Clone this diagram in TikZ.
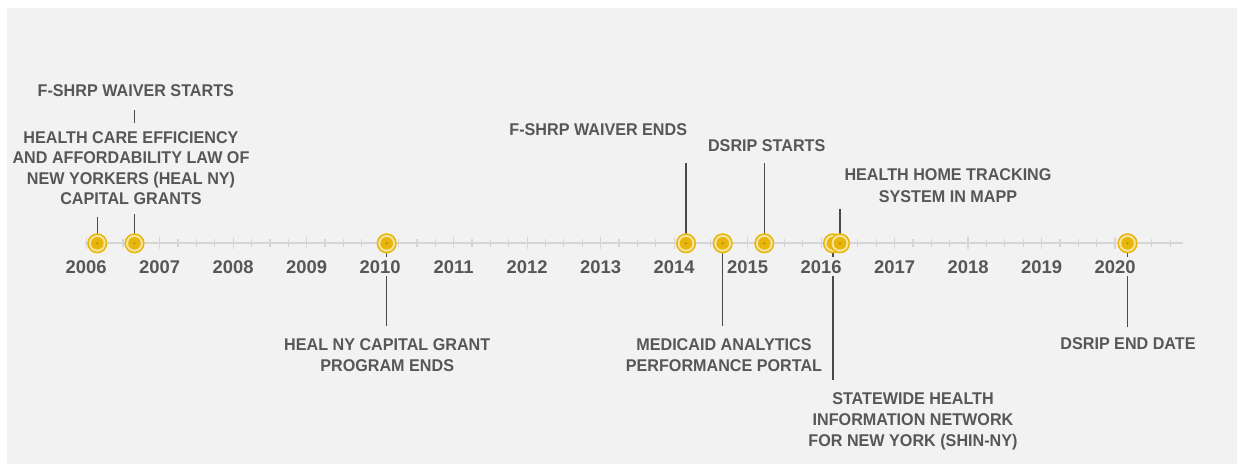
\documentclass[tikz,border=0pt]{standalone}
\usepackage{fontspec}
\setmainfont{Liberation Sans}
\newfontfamily\eventfont{Liberation Sans}[FakeStretch=0.95]
\usetikzlibrary{positioning}
\definecolor{TimeInk}{HTML}{575757}
\definecolor{TimeStem}{HTML}{4A4A4A}
\definecolor{TimeAxis}{HTML}{D6D6D6}
\definecolor{TimePanel}{HTML}{F2F2F2}
\definecolor{TimeGold}{HTML}{E8B60A}
\definecolor{TimePale}{HTML}{F6E4A2}

\tikzset{
  event/.style={font=\eventfont\fontsize{17}{21}\selectfont\bfseries, text=TimeInk, align=center, inner sep=0pt},
  yearlabel/.style={font=\fontsize{18.4}{20}\selectfont\bfseries, text=TimeInk, fill=TimePanel,
    inner sep=3pt, text height=13.2pt, text depth=0pt},
  stem/.style={draw=TimeStem, line width=1.4pt},
  tick/.style={draw=TimeAxis, line width=1.2pt},
  dot/.style={circle, minimum size=18.6pt, inner sep=0pt, draw=TimeGold, line width=1.5pt, fill=TimePale,
    path picture={\fill[TimeGold] (path picture bounding box.center) circle (6.3pt);
                  \fill[TimeGold!70!black] (path picture bounding box.center) circle (1pt);}}
}

\begin{document}
\begin{tikzpicture}[x=1pt,y=-1pt]
  \useasboundingbox (0,0) rectangle (1244,472);
  \fill[white] (0,0) rectangle (1244,472);
  \fill[TimePanel] (7,8) rectangle (1237,464);

  % axis
  \draw[draw=TimeAxis, line width=2pt] (85,243.3) -- (1183,243.3);
  \foreach \q in {0,...,59}
    \draw[tick] ({86.2+18.3725*\q},239.3) -- ++(0,8);
  \foreach \yr in {2006,...,2020}
    \draw[tick] ({86.2+73.49*(\yr-2006)},237.3) -- ++(0,12);

  % labels above
  \node[event, anchor=south] (fshrpstart) at (135.8,96.7) {F-SHRP WAIVER STARTS};
  \node[event, anchor=south east] (fshrpend) at (687.3,135.7) {F-SHRP WAIVER ENDS};
  \node[event, anchor=south] (dsripstart) at (766.7,151.7) {DSRIP STARTS};
  \node[event, anchor=south, font=\eventfont\fontsize{17}{21.7}\selectfont\bfseries] (hometrack) at (948,202.7)
    {HEALTH HOME TRACKING\\SYSTEM IN MAPP};

  % labels below
  \node[event, anchor=north] (grantend) at (387.2,338.3) {HEAL NY CAPITAL GRANT\\PROGRAM ENDS};
  \node[event, anchor=north] (mapp) at (724,338.3) {MEDICAID ANALYTICS\\PERFORMANCE PORTAL};
  \node[event, anchor=north] (shinny) at (913,392.3)
    {STATEWIDE HEALTH\\INFORMATION NETWORK\\FOR NEW YORK (SHIN-NY)};
  \node[event, anchor=north] (dsripend) at (1128,337.7) {DSRIP END DATE};

  % event dates
  \coordinate (e1) at (97.3,243.3);
  \coordinate (e2) at (134.5,243.3);
  \coordinate (e3) at (386.7,243.3);
  \coordinate (e4) at (686,243.3);
  \coordinate (e5) at (722.7,243.3);
  \coordinate (e6) at (764.3,243.3);
  \coordinate (e7) at (833,243.3);
  \coordinate (e8) at (840,243.3);
  \coordinate (e9) at (1127.5,243.3);

  \draw[stem, shorten >=13.3pt] (e2) -- (e2 |- fshrpstart.south);
  \node[event, anchor=south, inner ysep=9pt, fill=TimePanel, font=\eventfont\fontsize{17}{20.4}\selectfont\bfseries]
    (healny) at (131,214) {HEALTH CARE EFFICIENCY\\AND AFFORDABILITY LAW OF\\NEW YORKERS (HEAL NY)\\CAPITAL GRANTS};

  \draw[stem, shorten >=3pt] (e1) -- (e1 |- healny.south);
  \draw[stem, shorten >=12pt] (e3) -- (e3 |- grantend.north);
  \draw[stem, shorten >=27pt] (e4) -- (e4 |- fshrpend.south);
  \draw[stem, shorten >=12pt] (e5) -- (e5 |- mapp.north);
  \draw[stem, shorten >=11pt] (e6) -- (e6 |- dsripstart.south);
  \draw[stem, shorten >=12pt] (e7) -- (e7 |- shinny.north);
  \draw[stem, shorten >=6.6pt] (e8) -- (e8 |- hometrack.south);
  \draw[stem, shorten >=11pt] (e9) -- (e9 |- dsripend.north);

  \foreach \n in {1,...,9}
    \node[dot] (d\n) at (e\n) {};

  % years
  \foreach \yr in {2006,...,2020}
    \node[yearlabel] (y\yr) at ({86.2+73.49*(\yr-2006)},266.7) {\yr};
\end{tikzpicture}
\end{document}
